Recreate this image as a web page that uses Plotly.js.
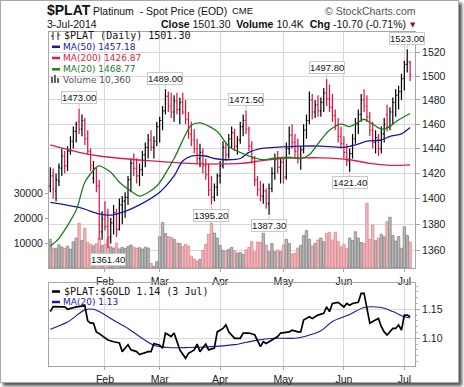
<!DOCTYPE html>
<html><head><meta charset="utf-8">
<script src="https://cdn.plot.ly/plotly-3.0.1.min.js"></script>
<style>
html,body{margin:0;padding:0;background:#fff;}
#frame{position:absolute;left:0;top:0;width:457px;height:381px;border:1px solid #a8a8a8;box-shadow:3px 3px 3px #555;background:#fff;}
#chart{position:absolute;left:0;top:0;width:464px;height:387px;}
</style></head><body>
<div id="frame"></div><div id="chart"></div>
<script>
// ---- data (trading-day index 0 = 6-Jan-2014) ----
const months = ['Feb','Mar','Apr','May','Jun','Jul'];
const monthIdx = [19,38,59,81,102,123];

const openP = [
 1410,1418,1406,1414,1424,1434,1426,1438,1446,1454,1462,1456,1463,1448,1438,1416,1424,1410,1374,
 1384,1378,1370,1381,1389,1376,1395,1398,1401,1415,1428,1424,1418,1423,1435,1441,1447,1441,1446,
 1458,1463,1471,1483,1475,1470,1479,1472,1478,1470,1464,1452,1447,1440,1432,1437,1426,1419,1407,1401,1409,
 1418,1426,1441,1435,1448,1453,1442,1447,1458,1463,1456,1442,1432,1415,1407,1402,1406,1396,1408,1420,1431,1425,
 1429,1417,1440,1451,1445,1438,1432,1439,1455,1463,1480,1470,1476,1471,1478,1486,1481,1474,1467,1459,1450,
 1444,1437,1430,1436,1448,1460,1468,1480,1475,1466,1455,1445,1449,1440,1452,1468,1458,1470,1478,1484,1487,
 1498,1510,1512];
const highP = [
 1425,1424,1420,1428,1440,1438,1442,1450,1458,1462,1473,1468,1465,1455,1440,1430,1425,1415,1390,
 1398,1392,1385,1395,1392,1400,1402,1405,1418,1432,1436,1432,1428,1438,1445,1452,1455,1450,1462,
 1466,1475,1489,1487,1486,1484,1486,1482,1486,1480,1470,1462,1456,1448,1444,1440,1432,1428,1418,1412,1420,
 1430,1446,1445,1452,1458,1456,1450,1462,1468,1471.5,1458,1446,1434,1418,1414,1412,1408,1412,1425,1436,1438,1432,
 1432,1445,1458,1460,1452,1448,1442,1460,1468,1487,1485,1480,1484,1482,1490,1497.8,1493,1485,1472,1465,1458,
 1450,1444,1440,1452,1465,1472,1485,1489,1484,1470,1462,1455,1452,1458,1465,1476,1474,1482,1489,1492,1502,
 1513,1523,1513];
const lowP = [
 1405,1400,1398,1410,1418,1420,1422,1435,1440,1445,1452,1450,1443,1435,1422,1412,1405,1368,1368,
 1375,1361.4,1365,1372,1370,1375,1380,1385,1395,1405,1418,1412,1410,1418,1425,1432,1438,1432,1442,
 1445,1455,1468,1470,1465,1462,1468,1460,1468,1460,1448,1442,1436,1428,1425,1420,1415,1402,1395.2,1398,1402,
 1412,1424,1430,1432,1440,1438,1435,1444,1450,1452,1438,1428,1410,1402,1398,1396,1392,1387.3,1405,1415,1420,1412,
 1412,1415,1435,1440,1432,1428,1423,1436,1448,1460,1464,1465,1466,1466,1470,1475,1470,1462,1455,1445,1440,
 1432,1426,1421.4,1432,1444,1452,1462,1470,1462,1450,1440,1436,1434,1436,1445,1454,1455,1460,1466,1472,1480,
 1488,1503,1496];
const closeP = [
 1418,1408,1415,1425,1434,1426,1438,1446,1454,1460,1456,1463,1448,1438,1426,1424,1410,1374,1384,
 1378,1370,1381,1389,1376,1395,1398,1401,1415,1428,1424,1418,1423,1435,1441,1447,1441,1446,1458,
 1463,1471,1483,1475,1470,1479,1472,1478,1470,1464,1452,1447,1440,1432,1437,1426,1419,1407,1401,1409,1418,
 1426,1441,1435,1448,1453,1442,1447,1458,1463,1456,1442,1432,1415,1407,1402,1406,1396,1408,1420,1431,1425,1429,
 1417,1440,1451,1445,1438,1432,1439,1455,1463,1480,1470,1476,1471,1478,1486,1481,1474,1467,1459,1450,1444,
 1437,1430,1436,1448,1460,1468,1480,1475,1466,1455,1445,1449,1440,1452,1460,1458,1470,1478,1484,1487,1498,
 1510,1512,1501.3];
const volume = [
 11500,8000,7900,9300,8400,7800,8700,7600,10500,12000,17900,11000,15900,10200,9500,8900,9800,12000,9000,
 9500,11800,8500,8000,10000,7600,8200,7800,8600,9200,8400,7900,8100,7600,8300,8000,1800,600,2500,
 12500,18200,13800,12600,12200,11500,10000,9800,8500,9500,8800,4800,3600,2800,3500,7000,9500,13500,18000,14000,12000,
 9000,7000,6800,7500,8200,6800,6000,6200,5500,7200,8200,10600,6500,10400,10200,13900,9200,6500,9800,6500,7200,6500,
 9200,11500,9800,5600,6000,8000,9000,13000,15000,11500,8800,9800,11200,12000,10500,13800,14300,11200,14300,10600,8500,
 9500,7800,12000,11000,14500,12000,10200,9800,25900,11500,17200,11000,12000,13500,12500,18500,20300,13000,10800,12600,7900,
 16500,13000,10360];

const ma50Idx = [0,10,17,21,26,31,38,43,46,49,54,57,62,66,69,73,78,87,94,102,106,110,115,118,122,125];
const ma50Val = [1397,1393,1388,1387,1390,1395,1405,1418,1430,1434,1434,1432,1431,1432,1437,1440,1441,1442,1442,1441,1443,1446,1447,1450,1452,1457.18];
const ma200Idx = [0,10,17,35,45,52,59,66,73,80,87,94,104,111,118,125];
const ma200Val = [1443,1437,1434,1430,1428.5,1427.6,1427.6,1428,1430,1432,1432.5,1432.5,1431,1428,1426.5,1426.87];
const ma20Idx = [0,3,9,12,16,17,21,24,28,31,37,43,49,52,58,62,68,74,77,83,87,90,94,97,101,104,108,109,112,115,118,120,125];
const ma20Val = [1363,1369,1391,1413,1425,1426,1421,1413,1406,1402,1410,1432,1459,1461,1454,1442,1435,1431,1432,1433,1432,1435,1447,1455,1460,1458,1463,1464,1460,1456,1458,1462,1468.77];

const ratioIdx = [0,1,5,6,9,12,13,14,15,16,17,20,22,24,25,27,28,30,31,34,35,36,38,39,40,42,43,44,45,47,48,50,51,52,54,55,57,58,60,61,62,64,66,67,69,71,72,73,74,75,77,79,80,82,83,84,86,87,88,90,91,93,95,96,97,98,100,102,103,104,105,107,108,109,110,111,112,113,114,115,116,117,118,119,120,121,122,123,124,125];
const ratioVal = [1.146,1.1545,1.154,1.150,1.154,1.156,1.130,1.126,1.126,1.111,1.108,1.097,1.094,1.092,1.077,1.089,1.080,1.077,1.072,1.077,1.077,1.091,1.088,1.083,1.109,1.103,1.109,1.094,1.080,1.0655,1.074,1.080,1.090,1.077,1.090,1.080,1.083,1.111,1.117,1.123,1.111,1.100,1.100,1.109,1.109,1.106,1.097,1.0855,1.094,1.091,1.097,1.103,1.109,1.111,1.111,1.114,1.111,1.111,1.1316,1.137,1.134,1.140,1.143,1.154,1.146,1.160,1.162,1.154,1.160,1.157,1.160,1.162,1.1776,1.1776,1.154,1.126,1.129,1.131,1.134,1.120,1.111,1.1056,1.111,1.117,1.117,1.123,1.114,1.140,1.140,1.137];
const ratioMaIdx = [0,6,12,15,17,22,27,31,36,41,48,54,64,71,78,85,89,94,98,104,109,115,119,123,125];
const ratioMaVal = [1.1155,1.128,1.149,1.150,1.146,1.131,1.117,1.103,1.088,1.084,1.084,1.085,1.089,1.096,1.100,1.100,1.104,1.113,1.129,1.141,1.153,1.153,1.146,1.137,1.135];

const priceTicks = [1360,1380,1400,1420,1440,1460,1480,1500,1520];
const volTicks = [10000,20000,30000];
const ratioTicks = [1.10,1.15];

const highLabels = [[10,1473.00],[40,1489.00],[68,1471.50],[96,1497.80],[124,1523.00]];
const lowLabels = [[20,1361.40],[56,1395.20],[76,1387.30],[104,1421.40]];

// ---- build ----
const idx = closeP.map((_,i)=>i);
const volFill = closeP.map((c,i)=> c < openP[i] ? '#f2b6bb' : '#b9b9b9');
const volLine = closeP.map((c,i)=> c < openP[i] ? '#d9808a' : '#7d7d7d');
const NAVY='#1a1a9c', CRIM='#dc1e46', GRN='#1e7d1e';

const traces = [
 {type:'bar', x:idx, y:volume, xaxis:'x', yaxis:'y', width:0.86,
  marker:{color:volFill, line:{color:volLine, width:0.7}}, hoverinfo:'skip'},
 {type:'scatter', mode:'lines', x:ma200Idx, y:ma200Val, xaxis:'x', yaxis:'y3',
  line:{color:CRIM, width:1.3, shape:'spline', smoothing:0.8}, hoverinfo:'skip'},
 {type:'scatter', mode:'lines', x:ma50Idx, y:ma50Val, xaxis:'x', yaxis:'y3',
  line:{color:NAVY, width:1.3, shape:'spline', smoothing:0.8}, hoverinfo:'skip'},
 {type:'scatter', mode:'lines', x:ma20Idx, y:ma20Val, xaxis:'x', yaxis:'y3',
  line:{color:GRN, width:1.3, shape:'spline', smoothing:0.8}, hoverinfo:'skip'},
 {type:'ohlc', x:idx, open:openP, high:highP, low:lowP, close:closeP, xaxis:'x', yaxis:'y3',
  tickwidth:0.38, increasing:{line:{color:'#000', width:1.2}}, decreasing:{line:{color:'#e0103c', width:1.2}}, hoverinfo:'skip'},
 {type:'scatter', mode:'lines', x:ratioMaIdx, y:ratioMaVal, xaxis:'x2', yaxis:'y2',
  line:{color:NAVY, width:1.1, shape:'spline', smoothing:0.8}, hoverinfo:'skip'},
 {type:'scatter', mode:'lines', x:ratioIdx, y:ratioVal, xaxis:'x2', yaxis:'y2',
  line:{color:'#000', width:1.7}, hoverinfo:'skip'}
];

const W=464, H=387;
const px = v => v/W, py = v => 1 - v/H;
const dom = [49/W, 415/W];
const GRID='#d9d9d9', LINE='#a6a6a6';
const tf = {family:'Liberation Sans, Arial, sans-serif', size:10.5, color:'#222'};

const ann = [];
function txt(x,y,text,opts){ ann.push(Object.assign({xref:'paper',yref:'paper',x:px(x),y:py(y),text:text,showarrow:false,xanchor:'left',yanchor:'middle',borderpad:0}, opts||{})); }
txt(46,10,'<b>$PLAT</b>',{font:{family:'Liberation Sans, Arial',size:14,color:'#111'}});
txt(92,10.5,'Platinum  - Spot Price (EOD)',{font:{family:'Liberation Sans, Arial',size:10.5,color:'#111'}});
txt(231,11,'CME',{font:{family:'Liberation Sans, Arial',size:9.5,color:'#111'}});
txt(417,10.5,'© StockCharts.com',{xanchor:'right',font:{family:'Liberation Sans, Arial',size:10.5,color:'#555'}});
txt(46,24,'3-Jul-2014',{font:{family:'Liberation Sans, Arial',size:10.5,color:'#111'}});
txt(407,24,'<b>Close</b> 1501.30  <b>Volume</b> 10.4K  <b>Chg</b> -10.70 (-0.71%)',{xanchor:'right',font:{family:'Liberation Sans, Arial',size:10.5,color:'#111'}});
txt(409,24.5,'▼',{font:{family:'DejaVu Sans',size:7,color:'#8c1538'}});
// in-plot legend
txt(63,35.5,'$PLAT (Daily) 1501.30',{font:{family:'DejaVu Sans Mono, monospace',size:10,color:'#111'}});
txt(62,46.8,'MA(50) 1457.18',{font:{family:'DejaVu Sans',size:9,color:NAVY}});
txt(62,58,'MA(200) 1426.87',{font:{family:'DejaVu Sans',size:9,color:CRIM}});
txt(62,69.3,'MA(20) 1468.77',{font:{family:'DejaVu Sans',size:9,color:GRN}});
txt(62,79.8,'Volume 10,360',{font:{family:'DejaVu Sans',size:9,color:'#555'}});
txt(63,291.5,'$PLAT:$GOLD 1.14 (3 Jul)',{font:{family:'DejaVu Sans Mono, monospace',size:10,color:'#111'}});
txt(62,302,'MA(20) 1.13',{font:{family:'DejaVu Sans',size:9,color:NAVY}});

const lf = {family:'Liberation Sans, Arial',size:9.5,color:'#111'};
highLabels.forEach(([i,v])=>ann.push({xref:'x',yref:'y3',x:i,y:Math.log10(v),text:v.toFixed(2),showarrow:true,arrowhead:0,arrowwidth:1,arrowcolor:'#c8c8c8',ax:0,ay:-11,standoff:1,bgcolor:'#fff',bordercolor:'#c8c8c8',borderwidth:1,borderpad:0,font:lf}));
lowLabels.forEach(([i,v])=>ann.push({xref:'x',yref:'y3',x:i,y:Math.log10(v),text:v.toFixed(2),showarrow:true,arrowhead:0,arrowwidth:1,arrowcolor:'#c8c8c8',ax:0,ay:11,standoff:1,bgcolor:'#fff',bordercolor:'#c8c8c8',borderwidth:1,borderpad:0,font:lf}));

const shapes = [];
function seg(x0,y0,x1,y1,c,w){ shapes.push({type:'line',xref:'paper',yref:'paper',x0:px(x0),y0:py(y0),x1:px(x1),y1:py(y1),line:{color:c,width:w}}); }
seg(52,46.8,60,46.8,NAVY,2.5); seg(52,58,60,58,CRIM,2.5); seg(52,69.3,60,69.3,GRN,2.5);
seg(52,291.5,60,291.5,'#000',2.5); seg(52,302,60,302,NAVY,2.5);
// daily OHLC glyph
seg(53,32,53,40,'#222',1); seg(51,36,53,36,'#222',1); seg(58,32,58,40,'#222',1); seg(58,35,60,35,'#222',1);
// volume glyph
[[51,77],[54,75],[57,78]].forEach(([x,y])=>shapes.push({type:'rect',xref:'paper',yref:'paper',x0:px(x),x1:px(x+2),y0:py(83),y1:py(y),fillcolor:'#666',line:{width:0}}));

const layout = {
 width:W, height:H, margin:{l:0,r:0,t:0,b:0},
 paper_bgcolor:'rgba(0,0,0,0)', plot_bgcolor:'#fff', showlegend:false,
 font:tf, bargap:0,
 xaxis:{domain:dom, anchor:'y', range:[-0.45,126.7], tickmode:'array', tickvals:monthIdx, ticktext:months,
   showgrid:true, gridcolor:GRID, showline:true, mirror:true, linecolor:LINE, ticks:'outside', ticklen:3, tickcolor:LINE,
   zeroline:false, rangeslider:{visible:false}, tickfont:tf, fixedrange:true},
 yaxis:{domain:[119/H, 355/H], anchor:'x', side:'left', range:[0,94400], tickmode:'array', tickvals:volTicks,
   ticktext:volTicks.map(String),
   showgrid:false, zeroline:false, showline:true, mirror:true, linecolor:LINE, ticks:'outside', ticklen:3, tickcolor:LINE, tickfont:tf},
 yaxis3:{overlaying:'y', anchor:'x', side:'right', type:'log', range:[Math.log10(1346.3), Math.log10(1537.8)],
   tickmode:'array', tickvals:priceTicks, ticktext:priceTicks.map(String),
   showgrid:true, gridcolor:GRID, zeroline:false, ticks:'outside', ticklen:4, tickcolor:LINE, tickfont:tf},
 xaxis2:{domain:dom, anchor:'y2', range:[-0.45,126.7], tickmode:'array', tickvals:monthIdx, ticktext:months,
   showgrid:true, gridcolor:GRID, showline:true, mirror:true, linecolor:LINE, ticks:'outside', ticklen:3, tickcolor:LINE,
   zeroline:false, tickfont:tf},
 yaxis2:{domain:[21/H, 103.7/H], anchor:'x2', side:'right', range:[1.0522,1.1948], tickmode:'array', tickvals:ratioTicks,
   ticktext:['1.10','1.15'], showgrid:true, gridcolor:GRID, zeroline:false, showline:true, mirror:true, linecolor:LINE,
   ticks:'outside', ticklen:4, tickcolor:LINE, tickfont:tf,
   minor:{tickmode:'linear', dtick:0.01, ticks:'outside', ticklen:2, tickcolor:'#b8b8b8', showgrid:false}},
 annotations:ann, shapes:shapes
};
Plotly.newPlot('chart', traces, layout, {staticPlot:true, displayModeBar:false});
</script></body></html>
